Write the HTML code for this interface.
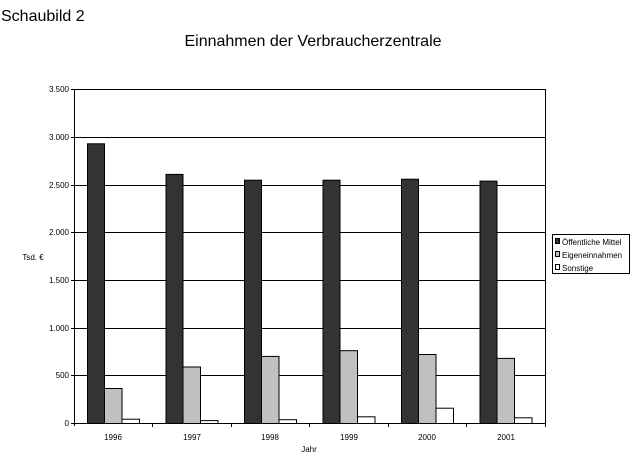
<!DOCTYPE html><html><head><meta charset="utf-8"><style>body{margin:0;background:#fff}svg{display:block}text{font-family:"Liberation Sans",Arial,sans-serif;fill:#000}</style></head><body>
<svg width="636" height="460" xmlns="http://www.w3.org/2000/svg">
<text x="1" y="21" font-size="16">Schaubild 2</text>
<text x="313" y="46" font-size="16" text-anchor="middle">Einnahmen der Verbraucherzentrale</text>
<g stroke="#000" stroke-width="1">
<line x1="74" y1="89.5" x2="545" y2="89.5"/>
<line x1="74" y1="137.5" x2="545" y2="137.5"/>
<line x1="74" y1="185.5" x2="545" y2="185.5"/>
<line x1="74" y1="232.5" x2="545" y2="232.5"/>
<line x1="74" y1="280.5" x2="545" y2="280.5"/>
<line x1="74" y1="328.5" x2="545" y2="328.5"/>
<line x1="74" y1="375.5" x2="545" y2="375.5"/>
<line x1="545.5" y1="89" x2="545.5" y2="423"/>
<line x1="74.5" y1="89" x2="74.5" y2="426"/>
<line x1="71" y1="89.5" x2="74" y2="89.5"/><line x1="71" y1="137.5" x2="74" y2="137.5"/><line x1="71" y1="185.5" x2="74" y2="185.5"/><line x1="71" y1="232.5" x2="74" y2="232.5"/><line x1="71" y1="280.5" x2="74" y2="280.5"/><line x1="71" y1="328.5" x2="74" y2="328.5"/><line x1="71" y1="375.5" x2="74" y2="375.5"/><line x1="71" y1="423.5" x2="74" y2="423.5"/>
</g>
<g font-size="8" text-anchor="end">
<text x="69" y="92">3.500</text><text x="69" y="140">3.000</text><text x="69" y="188">2.500</text><text x="69" y="235">2.000</text><text x="69" y="283">1.500</text><text x="69" y="331">1.000</text><text x="69" y="378">500</text><text x="69" y="426">0</text>
</g>
<text x="33" y="260" font-size="8" text-anchor="middle">Tsd. €</text>
<g stroke="#000" stroke-width="1">
<!-- 1996 -->
<rect x="87.5" y="143.8" width="17" height="279.7" fill="#333"/><rect x="104.5" y="388.5" width="17.5" height="35" fill="#c0c0c0"/><rect x="122" y="419.2" width="17.5" height="4.3" fill="#fff"/>
<rect x="166" y="174.4" width="17" height="249.1" fill="#333"/><rect x="183" y="367" width="17.5" height="56.5" fill="#c0c0c0"/><rect x="200.5" y="420.6" width="17.5" height="2.9" fill="#fff"/>
<rect x="244.5" y="180.2" width="17" height="243.3" fill="#333"/><rect x="261.5" y="356.4" width="17.5" height="67.1" fill="#c0c0c0"/><rect x="279" y="419.7" width="17.5" height="3.8" fill="#fff"/>
<rect x="323" y="180.2" width="17" height="243.3" fill="#333"/><rect x="340" y="350.7" width="17.5" height="72.8" fill="#c0c0c0"/><rect x="357.5" y="416.8" width="17.5" height="6.7" fill="#fff"/>
<rect x="401.5" y="179.2" width="17" height="244.3" fill="#333"/><rect x="418.5" y="354.5" width="17.5" height="69" fill="#c0c0c0"/><rect x="436" y="408.2" width="17.5" height="15.3" fill="#fff"/>
<rect x="480" y="181.1" width="17" height="242.4" fill="#333"/><rect x="497" y="358.4" width="17.5" height="65.1" fill="#c0c0c0"/><rect x="514.5" y="417.8" width="17.5" height="5.7" fill="#fff"/>
<line x1="74" y1="423.5" x2="545" y2="423.5"/>
<line x1="152.5" y1="423" x2="152.5" y2="427"/><line x1="231.5" y1="423" x2="231.5" y2="427"/><line x1="309.5" y1="423" x2="309.5" y2="427"/><line x1="388.5" y1="423" x2="388.5" y2="427"/><line x1="466.5" y1="423" x2="466.5" y2="427"/><line x1="545.5" y1="423" x2="545.5" y2="427"/>
</g>
<g font-size="8" text-anchor="middle">
<text x="113" y="440">1996</text><text x="192" y="440">1997</text><text x="270" y="440">1998</text><text x="349" y="440">1999</text><text x="427" y="440">2000</text><text x="506" y="440">2001</text>
<text x="309" y="452">Jahr</text>
</g>
<rect x="552.5" y="234.5" width="77" height="39" fill="#fff" stroke="#000"/>
<g stroke="#000"><rect x="555.5" y="238.5" width="4" height="5" fill="#333"/><rect x="555.5" y="251.5" width="4" height="5" fill="#c0c0c0"/><rect x="555.5" y="264.5" width="4" height="5" fill="#fff"/></g>
<g font-size="8"><text x="562" y="245">Öffentliche Mittel</text><text x="562" y="258">Eigeneinnahmen</text><text x="562" y="271">Sonstige</text></g>
</svg></body></html>
